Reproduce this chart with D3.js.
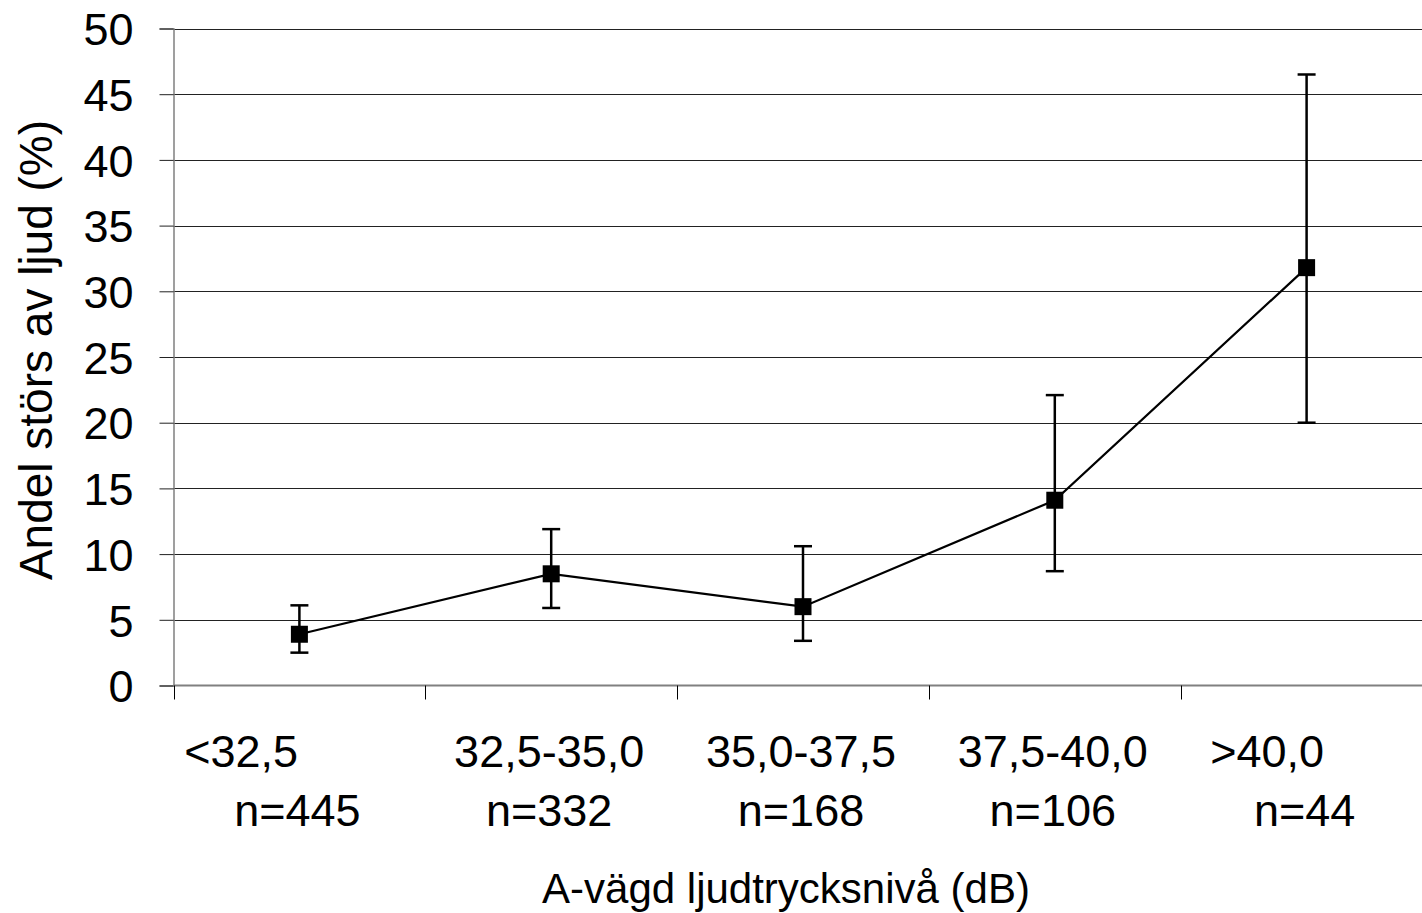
<!DOCTYPE html>
<html>
<head>
<meta charset="utf-8">
<script src="https://cdn.jsdelivr.net/npm/d3@7"></script>
<style>
  html, body { margin: 0; padding: 0; background: #fff; overflow: hidden; }
  svg { display: block; }
  text { font-family: "Liberation Sans", Arial, sans-serif; fill: #000; white-space: pre; }
</style>
</head>
<body>
<script>
// ---- data ----
const categories = ["<32,5", "32,5-35,0", "35,0-37,5", "37,5-40,0", ">40,0"];
const categoryPad = ["         ", "", "", "", "      "];
const nLabels = ["n=445", "n=332", "n=168", "n=106", "n=44"];
const values = [3.9, 8.5, 6.0, 14.1, 31.8];
const upper  = [6.1, 11.9, 10.6, 22.1, 46.5];
const lower  = [2.5, 5.9, 3.4, 8.7, 20.0];
const yTicks = [0, 5, 10, 15, 20, 25, 30, 35, 40, 45, 50];
const yTitle = "Andel störs av ljud (%)";
const xTitle = "A-vägd ljudtrycksnivå (dB)";

// ---- layout ----
const W = 1422, H = 913;
const mLeft = 173.5, mRight = 1432.5, mTop = 28.5, mBottom = 685.5;

const svg = d3.select("body").append("svg").attr("width", W).attr("height", H);

const x = d3.scaleBand().domain(categories).range([mLeft, mRight]).padding(0);
const y = d3.scaleLinear().domain([0, 50]).range([mBottom, mTop]);

// gridlines
svg.append("g").selectAll("line").data(yTicks.filter(d => d > 0)).join("line")
  .attr("x1", mLeft).attr("x2", mRight)
  .attr("y1", d => Math.round(y(d)) + 0.5).attr("y2", d => Math.round(y(d)) + 0.5)
  .attr("stroke", "#222").attr("stroke-width", 1);

// y axis
const yAxis = d3.axisLeft(y).tickValues(yTicks).tickSize(14).tickPadding(26).tickFormat(d3.format("d"));
const gy = svg.append("g").attr("transform", `translate(${mLeft},0)`).call(yAxis);
gy.select(".domain").attr("stroke", "#808080").attr("stroke-width", 1.5);
gy.selectAll(".tick line").attr("stroke", "#222");
gy.selectAll(".tick text").style("font-size", "45px").style("font-family", '"Liberation Sans", Arial, sans-serif').attr("fill", "#000").attr("dy", "0.36em");

// x axis baseline
svg.append("line").attr("x1", mLeft).attr("x2", mRight).attr("y1", mBottom).attr("y2", mBottom)
  .attr("stroke", "#808080").attr("stroke-width", 2);

// category boundary ticks
const bounds = categories.map(c => x(c)).concat([x(categories[categories.length - 1]) + x.bandwidth()]);
svg.append("g").selectAll("line").data(bounds).join("line")
  .attr("x1", d => Math.round(d) + 0.5).attr("x2", d => Math.round(d) + 0.5)
  .attr("y1", mBottom).attr("y2", mBottom + 14)
  .attr("stroke", "#000").attr("stroke-width", 1);

// category labels
const cx = c => x(c) + x.bandwidth() / 2;
const lab = svg.append("g").style("font-size", "45px").attr("text-anchor", "middle");
lab.selectAll("text.l1").data(categories).join("text").attr("class", "l1")
  .attr("x", d => cx(d) - 2).attr("y", 767)
  .text((d, i) => d + categoryPad[i]);
lab.selectAll("text.l2").data(categories).join("text").attr("class", "l2")
  .attr("x", d => cx(d) - 2).attr("y", 826)
  .text((d, i) => nLabels[i]);

// error bars
const eb = svg.append("g").attr("stroke", "#000").attr("stroke-width", 2.5);
categories.forEach((c, i) => {
  const px = cx(c);
  eb.append("line").attr("x1", px).attr("x2", px).attr("y1", y(upper[i])).attr("y2", y(lower[i]));
  eb.append("line").attr("x1", px - 9).attr("x2", px + 9).attr("y1", y(upper[i])).attr("y2", y(upper[i]));
  eb.append("line").attr("x1", px - 9).attr("x2", px + 9).attr("y1", y(lower[i])).attr("y2", y(lower[i]));
});

// line
const line = d3.line().x((d, i) => cx(categories[i])).y(d => y(d));
svg.append("path").datum(values).attr("d", line)
  .attr("fill", "none").attr("stroke", "#000").attr("stroke-width", 2.2);

// markers
svg.append("g").selectAll("rect").data(values).join("rect")
  .attr("x", (d, i) => cx(categories[i]) - 8.5).attr("y", d => y(d) - 8.5)
  .attr("width", 17).attr("height", 17).attr("fill", "#000");

// titles
svg.append("text").attr("transform", `translate(52,350) rotate(-90)`)
  .attr("text-anchor", "middle").style("font-size", "46px").text(yTitle);
svg.append("text").attr("x", 786).attr("y", 903)
  .attr("text-anchor", "middle").style("font-size", "42px").text(xTitle);
</script>
</body>
</html>
